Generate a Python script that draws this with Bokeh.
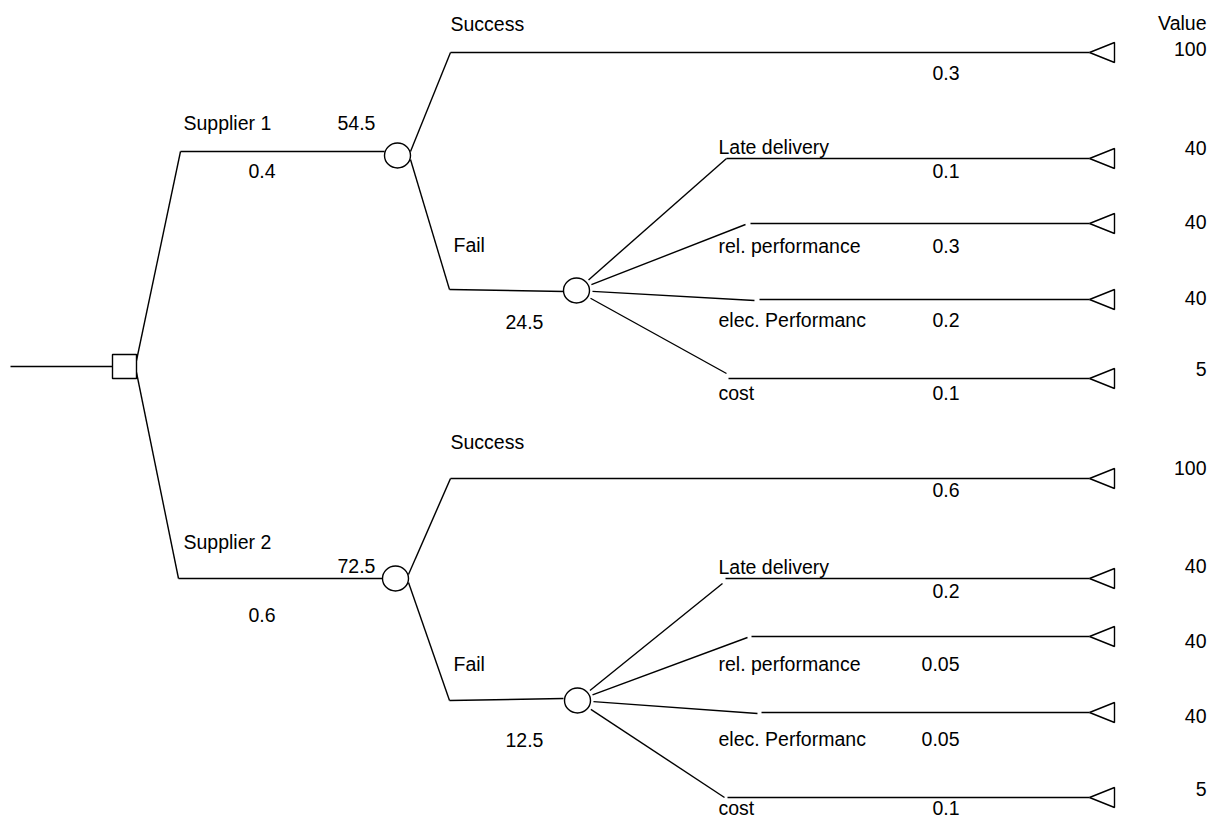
from bokeh.plotting import figure
from bokeh.models import Range1d, ColumnDataSource
from bokeh.embed import file_html
from bokeh.resources import INLINE
from bokeh.core.properties import value
import math

# ---------------- data ----------------
suppliers = ["Supplier 1", "Supplier 2"]
supplier_probs = ["0.4", "0.6"]
supplier_values = ["54.5", "72.5"]
outcomes = ["Success", "Fail"]
success_probs = ["0.3", "0.6"]
fail_values = ["24.5", "12.5"]
fail_modes = ["Late delivery", "rel. performance", "elec. Performanc", "cost"]
fail_mode_probs = [["0.1", "0.3", "0.2", "0.1"],
                   ["0.2", "0.05", "0.05", "0.1"]]
value_header = "Value"
success_value = "100"
fail_mode_values = ["40", "40", "40", "5"]

# ---------------- layout (page pixels) ----------------
W, H = 1211, 820
ROOT_X0, SQ_X, ROOT_Y, SQ = 10, 124, 366, 24
END_X = 1089           # triangle tip
TRI_W, TRI_H = 25, 20
CR_W, CR_H = 26, 25     # chance node ellipse
LAB_X = 718             # fail mode label x
PROB_RX = 959           # right edge of probability labels
VAL_RX = 1206           # right edge of value labels

blocks = [
    dict(sup_start=(180, 151), sup_end=384, c1=(397, 155),
         succ=(450, 52), fail=(449, 289), fail_end=(564, 291), c2=(576, 290),
         modes=[(726, 158, 726, 158), (745, 224, 750, 223),
                (754, 300, 759, 299), (726, 373, 728, 378)],
         lab_sup=(183, 122), lab_ev=(337, 122), lab_p=(248, 170),
         lab_succ=(450, 23), lab_sp=72, lab_fail=(453, 244), lab_fev=(505, 321),
         lab_modes=[146, 245, 319, 392], lab_mp=[170, 245, 319, 392],
         lab_vals=[48, 147, 221, 297, 368]),
    dict(sup_start=(178, 578), sup_end=383, c1=(395, 578),
         succ=(450, 478), fail=(449, 700), fail_end=(563, 698), c2=(577, 700),
         modes=[(722, 583, 725, 578), (747, 637, 751, 636),
                (757, 713, 761, 712), (724, 797, 727, 797)],
         lab_sup=(183, 541), lab_ev=(337, 565), lab_p=(248, 614),
         lab_succ=(450, 441), lab_sp=489, lab_fail=(453, 663), lab_fev=(505, 739),
         lab_modes=[566, 663, 738, 807], lab_mp=[590, 663, 738, 807],
         lab_vals=[467, 565, 640, 715, 788]),
]

FONT = "Liberation Sans"
FS = "19.5px"

p = figure(width=W, height=H, x_range=Range1d(0, W), y_range=Range1d(H, 0),
           output_backend="svg", toolbar_location=None, min_border=0)
p.axis.visible = False
p.grid.visible = False
p.outline_line_color = None
p.background_fill_color = "white"

xs, ys = [], []
def seg(a, b):
    xs.append([a[0], b[0]])
    ys.append([a[1], b[1]])

def toward(c, t, r):
    dx, dy = t[0] - c[0], t[1] - c[1]
    n = math.hypot(dx, dy)
    return (c[0] + dx / n * r, c[1] + dy / n * r)

# root
seg((ROOT_X0, ROOT_Y), (SQ_X - SQ / 2, ROOT_Y))

ell_x, ell_y, tris_x, tris_y = [], [], [], []
texts = dict(x=[], y=[], t=[], align=[])
def txt(x, y, t, align="left"):
    texts["x"].append(x); texts["y"].append(y); texts["t"].append(t); texts["align"].append(align)

def terminal(y):
    tris_x.append([END_X, END_X + TRI_W, END_X + TRI_W])
    tris_y.append([y, y - TRI_H / 2, y + TRI_H / 2])

txt(VAL_RX, 22, value_header, "right")

for i, b in enumerate(blocks):
    sq_edge = (SQ_X + SQ / 2, ROOT_Y - 6 if i == 0 else ROOT_Y + 6)
    seg(sq_edge, b["sup_start"])
    seg(b["sup_start"], (b["sup_end"], b["sup_start"][1]))
    cx, cy = b["c1"]
    ell_x.append(cx); ell_y.append(cy)
    # success branch
    seg((cx + CR_W / 2, cy - 4), b["succ"])
    seg(b["succ"], (END_X, b["succ"][1]))
    terminal(b["succ"][1])
    # fail branch
    seg((cx + CR_W / 2, cy + 4), b["fail"])
    seg(b["fail"], b["fail_end"])
    c2 = b["c2"]
    ell_x.append(c2[0]); ell_y.append(c2[1])
    for (kx, ky, lx, ly) in b["modes"]:
        seg(toward(c2, (kx, ky), 16), (kx, ky))
        seg((lx, ly), (END_X, ly))
        terminal(ly)
    # labels
    txt(*b["lab_sup"], suppliers[i])
    txt(*b["lab_ev"], supplier_values[i])
    txt(*b["lab_p"], supplier_probs[i])
    txt(*b["lab_succ"], outcomes[0])
    txt(PROB_RX, b["lab_sp"], success_probs[i], "right")
    txt(*b["lab_fail"], outcomes[1])
    txt(*b["lab_fev"], fail_values[i])
    for j, m in enumerate(fail_modes):
        txt(LAB_X, b["lab_modes"][j], m)
        txt(PROB_RX, b["lab_mp"][j], fail_mode_probs[i][j], "right")
    vals = [success_value] + fail_mode_values
    for j, v in enumerate(vals):
        txt(VAL_RX, b["lab_vals"][j], v, "right")

p.multi_line(xs, ys, line_color="black", line_width=1.4)
p.rect(x=[SQ_X], y=[ROOT_Y], width=SQ, height=SQ, fill_color="white",
       line_color="black", line_width=1.4)
p.ellipse(x=ell_x, y=ell_y, width=CR_W, height=CR_H, fill_color="white",
          line_color="black", line_width=1.4)
p.patches(tris_x, tris_y, fill_color="white", line_color="black", line_width=1.4)

src = ColumnDataSource(texts)
p.text(x="x", y="y", text="t", text_align="align", source=src,
       text_baseline="middle", text_font=value(FONT), text_font_size=FS,
       text_color="black")

open("out.html", "w").write(file_html(p, INLINE))
